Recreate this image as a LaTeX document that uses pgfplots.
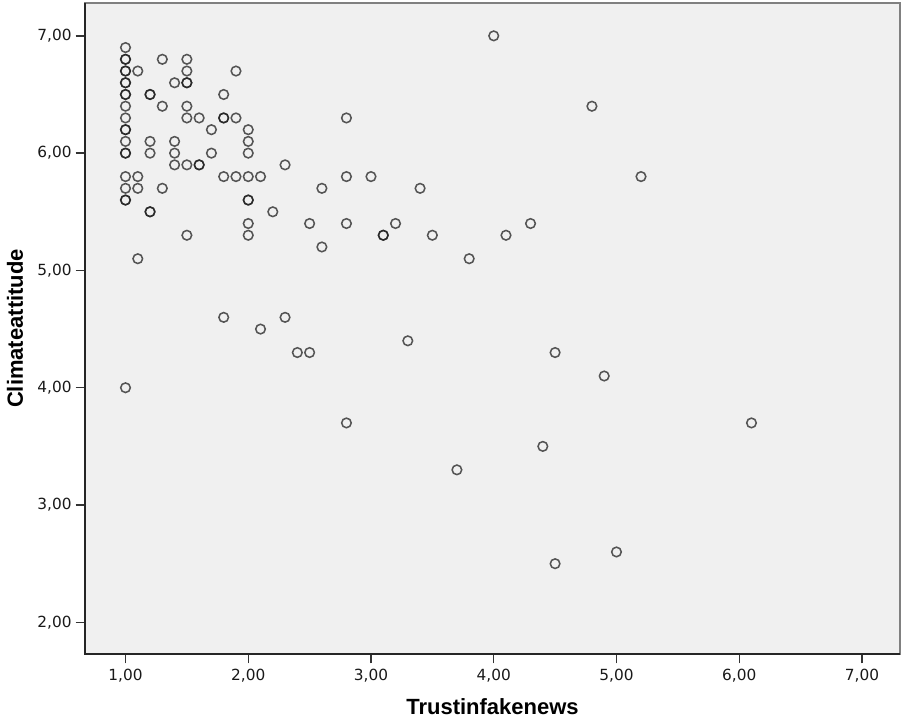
\documentclass[border=0pt]{standalone}
\usepackage{pgfplots}
\pgfplotsset{compat=1.18}
\usepackage{fontspec}
\setmainfont{DejaVu Sans}
\newfontfamily\labfont{Liberation Sans}
\definecolor{bgc}{HTML}{F0F0F0}
\begin{document}
\begin{tikzpicture}
\begin{axis}[
  at={(0,0)}, anchor=south west,
  scale only axis, width=611.25pt, height=488.25pt,
  xmin=0.67, xmax=7.31, ymin=1.73, ymax=7.28,
  xtick={1,2,3,4,5,6,7}, ytick={2,3,4,5,6,7},
  tick pos=left, tick align=outside, major tick length=7pt,
  tick style={black!80, line width=1pt},
  axis background/.style={fill=bgc},
  axis line style={draw=black!50, line width=1.3pt},
  /pgf/number format/.cd, fixed, fixed zerofill, precision=2, use comma, assume math mode=true,
  /pgfplots/.cd,
  ticklabel style={font=\fontsize{11.5}{13}\selectfont, text=black!90},
  xticklabel style={yshift=-1pt},
  yticklabel style={xshift=0.5pt},
  xlabel={Trustinfakenews}, ylabel={Climateattitude},
  label style={font=\labfont\bfseries\fontsize{16.5}{18}\selectfont, text=black},
  xlabel style={at={(rel axis cs:0.5,0)}, anchor=base, yshift=-45.5pt},
  ylabel style={at={([xshift=-46.5pt]rel axis cs:0,0.5)}, anchor=base, rotate=0},
  clip=false,
]
\addplot[only marks, mark=o, mark size=3.6pt,
  mark options={draw=black!90, line width=1.15pt, draw opacity=0.72}] coordinates {
(1.0,6.9)(1.0,6.8)(1.0,6.8)(1.0,6.7)(1.0,6.7)(1.0,6.6)(1.0,6.6)(1.0,6.5)(1.0,6.5)
(1.0,6.4)(1.0,6.3)(1.0,6.2)(1.0,6.2)(1.0,6.1)(1.0,6.0)(1.0,6.0)
(1.0,5.8)(1.0,5.7)(1.0,5.6)(1.0,5.6)(1.0,4.0)
(1.1,6.7)(1.1,5.8)(1.1,5.7)(1.1,5.1)
(1.2,6.5)(1.2,6.5)(1.2,6.1)(1.2,6.0)(1.2,5.5)(1.2,5.5)
(1.3,6.8)(1.3,6.4)(1.3,5.7)
(1.4,6.6)(1.4,6.1)(1.4,6.0)(1.4,5.9)
(1.5,6.8)(1.5,6.7)(1.5,6.6)(1.5,6.6)(1.5,6.4)(1.5,6.3)(1.5,5.9)(1.5,5.3)
(1.6,6.3)(1.6,5.9)(1.6,5.9)
(1.7,6.2)(1.7,6.0)
(1.8,6.5)(1.8,6.3)(1.8,6.3)(1.8,5.8)(1.8,4.6)
(1.9,6.7)(1.9,6.3)(1.9,5.8)
(2.0,6.2)(2.0,6.1)(2.0,6.0)(2.0,5.8)(2.0,5.6)(2.0,5.6)(2.0,5.4)(2.0,5.3)
(2.1,5.8)(2.1,4.5)
(2.2,5.5)
(2.3,5.9)(2.3,4.6)
(2.4,4.3)
(2.5,5.4)(2.5,4.3)
(2.6,5.7)(2.6,5.2)
(2.8,6.3)(2.8,5.8)(2.8,5.4)(2.8,3.7)
(3.0,5.8)
(3.1,5.3)(3.1,5.3)
(3.2,5.4)
(3.3,4.4)
(3.4,5.7)
(3.5,5.3)
(3.7,3.3)
(3.8,5.1)
(4.0,7.0)
(4.1,5.3)
(4.3,5.4)
(4.4,3.5)
(4.5,4.3)(4.5,2.5)
(4.8,6.4)
(4.9,4.1)
(5.0,2.6)
(5.2,5.8)
(6.1,3.7)
};
\draw[black!85, line width=1.5pt] (rel axis cs:0,1) -- (rel axis cs:0,0) -- (rel axis cs:1,0);
\end{axis}
\pgfresetboundingbox
\useasboundingbox (-63.75pt,-48pt) rectangle (612pt,490.5pt);
\end{tikzpicture}
\end{document}
